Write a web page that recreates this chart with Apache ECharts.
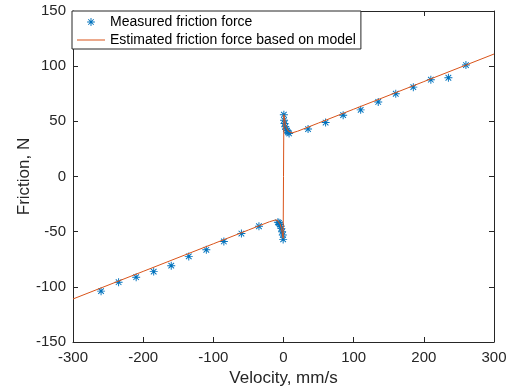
<!DOCTYPE html>
<html>
<head>
<meta charset="utf-8">
<script src="https://cdn.jsdelivr.net/npm/echarts@6/dist/echarts.min.js"></script>
<style>
html,body{margin:0;padding:0;background:#fff;}
#chart{width:517px;height:392px;}
</style>
</head>
<body>
<div id="chart"></div>
<script>
// Measured friction force (velocity mm/s, friction N)
const measuredV = [-260,-235,-210,-185,-160,-135,-110,-85,-60,-35,
  -8,-6.5,-5,-4,-3,-2,-1,-0.5,
  0.5,0.8,1.5,2.5,3.5,5,6.5,8,
  35,60,85,110,135,160,185,210,235,260];
const measuredF = [-103.9,-95.8,-91.3,-86.2,-80.8,-72.4,-66.4,-58.9,-51.7,-45.1,
  -41.5,-42,-43.5,-45,-47,-50,-53,-57,
  56,51,48,45,43,41.5,40,39,
  43,48.9,55.6,60.4,67.6,75,81,87.7,89.5,101];
// Estimated friction force based on model
const modelV = [-300,-200,-100,-50,-20,-12,-9,-7,-5,-4,-3,-2,-1,-0.5,0,0.5,1,2,3,4,5,7,9,12,20,50,100,200,300];
const modelF = [-111,-86,-61,-48.5,-41,-39.5,-39.5,-41,-43,-44.5,-47,-50.5,-54,-56,0,56,54,50.5,47,44.5,43,41,39.5,39.5,41,48.5,61,86,111];
const xTicks = {min:-300, max:300, interval:100};
const yTicks = {min:-150, max:150, interval:50};

const starBody = 'M-0.6,-5L0.6,-5L0.6,5L-0.6,5Z' +
  'M-5,-0.6L5,-0.6L5,0.6L-5,0.6Z' +
  'M-3.08,-3.92L3.92,3.08L3.08,3.92L-3.92,-3.08Z' +
  'M-3.92,3.08L3.08,-3.92L3.92,-3.08L-3.08,3.92Z';
const starPath = 'path://' + starBody;
const starLegend = 'path://M-9,-9M9,9' + starBody;
const lineLegend = 'path://M0,0L28,0L28,1L0,1Z';

const axisColor = '#262626';
const font = 'Liberation Sans, Arial, Helvetica, sans-serif';

const chart = echarts.init(document.getElementById('chart'), null, {renderer:'canvas'});
const baseX = {
  type:'value', min:xTicks.min, max:xTicks.max, interval:xTicks.interval,
  axisLine:{show:true, onZero:false, lineStyle:{color:axisColor, width:1}},
  axisTick:{show:true, inside:true, length:5, lineStyle:{color:axisColor}},
  splitLine:{show:false}
};
const baseY = {
  type:'value', min:yTicks.min, max:yTicks.max, interval:yTicks.interval,
  axisLine:{show:true, onZero:false, lineStyle:{color:axisColor, width:1}},
  axisTick:{show:true, inside:true, length:5, lineStyle:{color:axisColor}},
  splitLine:{show:false}
};
chart.setOption({
  animation:false,
  textStyle:{fontFamily:font},
  grid:{left:73, right:23, top:11, bottom:49, containLabel:false},
  xAxis:[
    Object.assign({}, baseX, {position:'bottom',
      name:'Velocity, mm/s', nameLocation:'middle', nameGap:28, nameMoveOverlap:false,
      nameTextStyle:{fontSize:17, color:axisColor, fontFamily:font},
      axisLabel:{fontSize:15, color:axisColor, margin:8, fontFamily:font}}),
    Object.assign({}, baseX, {position:'top', axisLabel:{show:false}})
  ],
  yAxis:[
    Object.assign({}, baseY, {position:'left',
      name:'Friction, N', nameLocation:'middle', nameGap:40, nameMoveOverlap:false,
      nameTextStyle:{fontSize:17, color:axisColor, fontFamily:font},
      axisLabel:{fontSize:15, color:axisColor, margin:7, fontFamily:font}}),
    Object.assign({}, baseY, {position:'right', axisLabel:{show:false}})
  ],
  legend:{
    left:72, top:11, orient:'vertical',
    itemWidth:28, itemHeight:14, itemGap:4,
    padding:[4,5,2,5],
    borderColor:axisColor, borderWidth:1, backgroundColor:'#fff',
    textStyle:{fontSize:14, color:'#000', fontFamily:font},
    data:[
      {name:'Measured friction force', icon:starLegend,
        itemStyle:{color:'#0072BD', borderWidth:0}},
      {name:'Estimated friction force based on model', icon:lineLegend,
        itemStyle:{color:'#D95319', borderWidth:0}}
    ]
  },
  series:[
    {
      name:'Measured friction force', type:'scatter',
      xAxisIndex:0, yAxisIndex:0,
      symbol:starPath, symbolSize:8,
      itemStyle:{color:'#0072BD', opacity:1},
      data: measuredV.map((v,i)=>[v, measuredF[i]]),
      z:3
    },
    {
      name:'Estimated friction force based on model', type:'line',
      xAxisIndex:0, yAxisIndex:0,
      symbol:'none', showSymbol:false,
      lineStyle:{color:'#D95319', width:1},
      itemStyle:{color:'#D95319'},
      data: modelV.map((v,i)=>[v, modelF[i]]),
      z:4
    }
  ]
});
</script>
</body>
</html>
